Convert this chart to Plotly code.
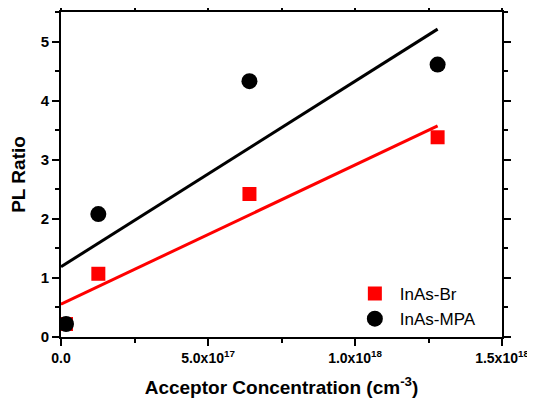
import numpy as np
import plotly.graph_objects as go

conc = [1.7e16, 1.27e17, 6.41e17, 1.281e18]
br = [0.22, 1.07, 2.42, 3.38]
mpa = [0.22, 2.08, 4.33, 4.61]
x_tickvals = [0, 5e17, 1e18, 1.5e18]
x_ticktext = ["0.0", "5.0x10<sup>17</sup>", "1.0x10<sup>18</sup>", "1.5x10<sup>18</sup>"]
y_tickvals = [0, 1, 2, 3, 4, 5]

fit_x = np.array([0, max(conc)])
kb = np.polyfit(conc, br, 1)
km = np.polyfit(conc, mpa, 1)

fig = go.Figure()
fig.add_trace(go.Scatter(x=fit_x, y=np.polyval(kb, fit_x), mode="lines",
                         line=dict(color="#ff0000", width=3), showlegend=False))
fig.add_trace(go.Scatter(x=fit_x, y=np.polyval(km, fit_x), mode="lines",
                         line=dict(color="#000000", width=3), showlegend=False))
fig.add_trace(go.Scatter(x=conc, y=br, mode="markers", name="InAs-Br",
                         marker=dict(symbol="square", size=14, color="#ff0000")))
fig.add_trace(go.Scatter(x=conc, y=mpa, mode="markers", name="InAs-MPA",
                         marker=dict(symbol="circle", size=16, color="#000000")))

axis_common = dict(showline=True, linecolor="black", linewidth=2, mirror="allticks",
                   ticks="outside", ticklen=7, tickwidth=1.5, tickcolor="black",
                   showgrid=False, zeroline=False, automargin=False)

fig.update_xaxes(range=[0, 1.5e18], tickmode="array", tickvals=x_tickvals, ticktext=x_ticktext,
                 tickfont=dict(family="Liberation Sans", size=14, color="black", weight="bold"),
                 minor=dict(tickvals=[2.5e17, 7.5e17, 1.25e18], ticklen=4, tickwidth=1.5,
                            tickcolor="black", ticks="outside"),
                 title=dict(text="Acceptor Concentration (cm<sup>-3</sup>)", standoff=16,
                            font=dict(family="Liberation Sans", size=19, color="black", weight="bold")),
                 **axis_common)
fig.update_yaxes(range=[0, 5.5], tickmode="array", tickvals=y_tickvals,
                 tickfont=dict(family="Liberation Sans", size=15, color="black", weight="bold"),
                 minor=dict(dtick=0.5, tick0=0, ticklen=4, tickwidth=1.5,
                            tickcolor="black", ticks="outside"),
                 title=dict(text="PL Ratio", standoff=13,
                            font=dict(family="Liberation Sans", size=19, color="black", weight="bold")),
                 **axis_common)

# page body has an 8px default margin, so the figure is offset by 8px
fig.update_layout(width=527, height=401, margin=dict(l=53, r=33, t=4, b=72),
                  plot_bgcolor="white", paper_bgcolor="white",
                  legend=dict(x=0.655, y=0.0, xanchor="left", yanchor="bottom",
                              itemwidth=40, tracegroupgap=0,
                              bgcolor="rgba(0,0,0,0)",
                              font=dict(family="Liberation Sans", size=17, color="black")))

fig.write_html("out.html")
